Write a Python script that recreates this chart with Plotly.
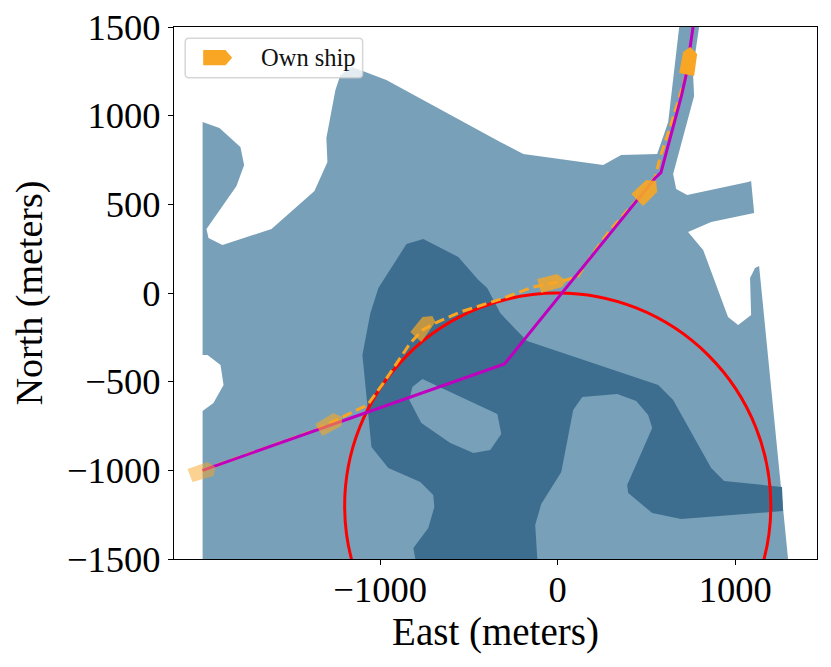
import plotly.graph_objects as go

# Map regions (meters)
light_east = [-2000, -2000, -1939, -1882, -1899, -1972, -2000, -2000, -1905, -1787, -1766, -1809, -1978, -1967, -1888,
              -1612, -1370, -1297, -1303, -1252, -1224, -1158, -965, -324, -194, 256, 357, 560, 622, 684, 796, 761, 768,
              650, 667, 729, 1072, 1089, 1106, 864, 734, 819, 959, 1016, 1089, 1083, 1111, 1134, 1297]
light_north = [-1500, -665, -620, -519, -406, -350, -350, 964, 931, 823, 722, 603, 361, 310, 271,
               361, 575, 739, 874, 1145, 1230, 1275, 1201, 852, 784, 722, 778, 784, 964, 1500, 1500, 1258, 1111,
               671, 587, 553, 626, 632, 451, 400, 344, 243, -135, -180, -124, 85, 141, 152, -1500]

dark_east = [-1010, -852, -757, -560, -447, -397, -324, -239, -172, 566, 650, 864, 937, 1263, 1269, 695, 532, 397, 391,
             532, 509, 442, 335, 138, 87, 20, -93, -127, -115, -802, -813, -729, -695, -701, -774, -954, -1049, -1100, -1055]
dark_north = [28, 276, 305, 203, 73, 28, -113, -203, -271, -519, -603, -987, -1060, -1094, -1230, -1275, -1241, -1128, -1083,
              -761, -688, -609, -570, -587, -660, -1010, -1190, -1308, -1500, -1500, -1438, -1325, -1207, -1139, -1066, -987, -869, -350, -113]

hole_east = [-762, -819, -836, -768, -605, -475, -380, -318, -340]
hole_north = [-485, -530, -603, -733, -846, -902, -885, -795, -682]

# Planned route and sailed track
route_east = [-2000, -300, 549, 581, 698, 723, 762]
route_north = [-1000, -400, 649, 679, 1117, 1230, 1500]

track_east = [-2000, -1365, -1213, -1072, -982, -903, -830, -762, -678, -549, -335, -138, 3, 110, 200, 295, 397, 481,
              549, 577, 633, 672, 723, 746]
track_north = [-1000, -773, -699, -632, -508, -389, -282, -209, -164, -107, -39, 34, 62, 90, 226, 355, 468, 564,
               654, 767, 936, 1060, 1230, 1387]

# Ship outlines along the track
ship_east = [[-2085, -1972, -1927, -1938, -2057],
             [-1365, -1263, -1213, -1218, -1325],
             [-830, -762, -706, -689, -768],
             [-115, -3, 48, 25, -93],
             [414, 498, 554, 560, 481],
             [684, 706, 746, 785, 768]]
ship_north = [[-993, -953, -981, -1032, -1066],
              [-739, -677, -699, -750, -807],
              [-220, -135, -130, -164, -276],
              [79, 107, 68, 34, 0],
              [558, 637, 632, 570, 491],
              [1241, 1359, 1387, 1348, 1224]]
ship_alpha = [0.5, 0.6, 0.7, 0.8, 0.9, 1.0]

# Circle
circle_center = (0, -1200)
circle_radius = 1200

x_ticks = [-1000, 0, 1000]
y_ticks = [-1500, -1000, -500, 0, 500, 1000, 1500]

FONT = "Liberation Serif"
LIGHT = "#78a1b9"
DARK = "#3d6d8f"
ORANGE = "248,166,35"


def region_path(xs, ys):
    return "M " + " L ".join(f"{x} {y}" for x, y in zip(xs, ys)) + " Z"


fig = go.Figure()

# regions and circle as shapes so the circle stays under the lines
for xs, ys, col in [(light_east, light_north, LIGHT), (dark_east, dark_north, DARK), (hole_east, hole_north, LIGHT)]:
    fig.add_shape(type="path", xref="x", yref="y", path=region_path(xs, ys), fillcolor=col,
                  line=dict(width=0), layer="below")
fig.add_shape(type="circle", xref="x", yref="y",
              x0=circle_center[0] - circle_radius, x1=circle_center[0] + circle_radius,
              y0=circle_center[1] - circle_radius, y1=circle_center[1] + circle_radius,
              line=dict(color="#ff0000", width=3), layer="below")

fig.add_trace(go.Scatter(x=track_east, y=track_north, mode="lines",
                         line=dict(color=f"rgb({ORANGE})", width=3, dash="10px,5px")))
fig.add_trace(go.Scatter(x=route_east, y=route_north, mode="lines", line=dict(color="#bf00bf", width=3)))

for sx, sy, a in zip(ship_east, ship_north, ship_alpha):
    fig.add_trace(go.Scatter(x=sx, y=sy, mode="none", fill="toself", fillcolor=f"rgba({ORANGE},{a})"))

# Legend box drawn by hand to get the rounded frame and ship shaped key
fig.add_shape(type="path", xref="paper", yref="paper",
              path="M 0.0234 0.9788 L 0.2874 0.9788 Q 0.2934 0.9788 0.2934 0.9713 L 0.2934 0.9122 "
                   "Q 0.2934 0.9047 0.2874 0.9047 L 0.0234 0.9047 Q 0.0174 0.9047 0.0174 0.9122 "
                   "L 0.0174 0.9713 Q 0.0174 0.9788 0.0234 0.9788 Z",
              fillcolor="rgba(255,255,255,0.8)", line=dict(color="rgba(204,204,204,0.8)", width=1.5), layer="above")
fig.add_shape(type="path", xref="paper", yref="paper",
              path="M 0.0454 0.9568 L 0.0800 0.9568 L 0.0904 0.9423 L 0.0800 0.9280 L 0.0454 0.9280 Z",
              fillcolor=f"rgb({ORANGE})", line=dict(width=0), layer="above")
fig.add_annotation(text="Own ship", xref="paper", yref="paper", x=0.1329, y=0.9423, xanchor="left", yanchor="middle",
                   showarrow=False, font=dict(family=FONT, size=24.5, color="#111111"))

# page body has an 8px margin, so the figure is 16px smaller than the window
fig.update_layout(
    width=815, height=651, autosize=False,
    margin=dict(l=165.5, r=6, t=19, b=100),
    plot_bgcolor="white", paper_bgcolor="white",
    showlegend=False,
    font=dict(family=FONT, color="black"),
    xaxis=dict(range=[-2161, 1460], tickmode="array", tickvals=x_ticks,
               ticktext=[f"{v}".replace("-", "\u2212") for v in x_ticks], automargin=False,
               ticks="outside", ticklen=5, tickwidth=1.2, tickcolor="black", showgrid=False, zeroline=False,
               showline=True, linecolor="black", linewidth=1.3, mirror=True, tickfont=dict(size=36.5),
               ticklabeloverflow="allow", ticklabelstandoff=-7,
               title=dict(text="East (meters)", font=dict(size=39), standoff=4)),
    yaxis=dict(range=[-1500, 1500], tickmode="array", tickvals=y_ticks,
               ticktext=[f"{v}".replace("-", "\u2212") for v in y_ticks], automargin=False,
               ticks="outside", ticklen=5, tickwidth=1.2, tickcolor="black", showgrid=False, zeroline=False,
               showline=True, linecolor="black", linewidth=1.3, mirror=True, tickfont=dict(size=36.5),
               ticklabeloverflow="allow",
               title=dict(text="North (meters)", font=dict(size=38), standoff=18)),
)

fig.write_html("out.html")
